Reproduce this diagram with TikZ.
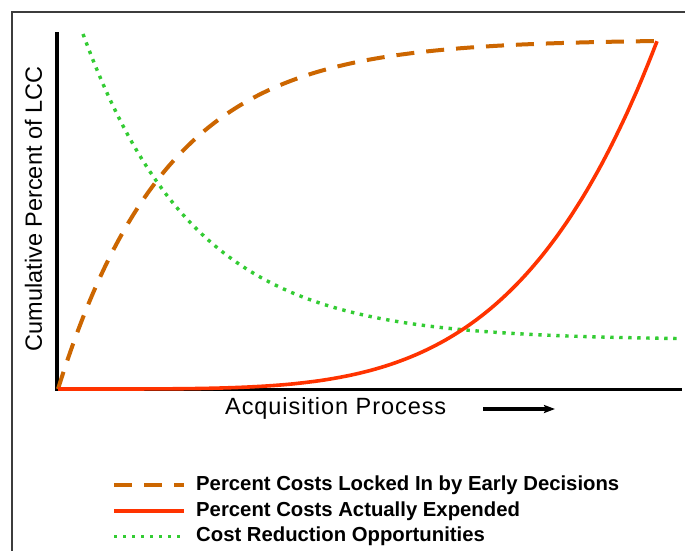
\documentclass[tikz,border=0pt]{standalone}
\usepackage{fontspec}
\setmainfont{Liberation Sans}
\usetikzlibrary{arrows.meta}
\definecolor{lockorange}{RGB}{204,102,0}
\definecolor{spentred}{RGB}{255,51,0}
\definecolor{oppgreen}{RGB}{51,204,51}
\definecolor{framegray}{RGB}{60,60,60}
\tikzset{
  lockcurve/.style={draw=lockorange, line width=4pt, dash pattern=on 18pt off 12pt},
  spentcurve/.style={draw=spentred, line width=3.6pt},
  oppcurve/.style={draw=oppgreen, line width=3.4pt, dash pattern=on 3.4pt off 5.6pt},
  axisline/.style={draw=black, line width=3.6pt},
  axislabel/.style={font=\fontsize{23.5}{28}\selectfont, inner sep=0pt},
  legendtext/.style={font=\fontsize{20.3}{24}\selectfont\bfseries, anchor=west, inner sep=0pt},
}
\begin{document}
\begin{tikzpicture}[x=1pt, y=-1pt]
\useasboundingbox (0,0) rectangle (685,551);
\fill[white] (0,0) rectangle (685,551);
% frame
\draw[framegray, line width=1.3pt] (12,551) -- (12,12) -- (685,12);
% axes
\coordinate (ytop) at (57,32.5);
\coordinate (origin) at (57,389.5);
\coordinate (xend) at (682,389.5);
\draw[axisline] (ytop) -- (57,391.3);
\draw[axisline] (55.2,389.5) -- (xend);
% curves
\draw[oppcurve] plot[domain=83:680, samples=120] (\x, {340-306*exp(-(\x-83)/112)});
\draw[lockcurve] plot[domain=58:657, samples=120] (\x, {389-348*(1-exp(-(\x-58)/109))/(1-exp(-599/109))});
\draw[spentcurve] plot[domain=58:657, samples=120] (\x, {389-348*exp(4.5*ln(max((\x-58)/599,0.00001)))});
% labels
\node[axislabel, rotate=90] (ylab) at (33.5,209) {Cumulative Percent of LCC};
\node[axislabel, anchor=west] (xlab) at (225,408) {\addfontfeature{LetterSpace=4}Acquisition Process};
\coordinate (arrS) at (483,409);
\coordinate (arrE) at (555,409);
\draw[line width=3.2pt, -{Stealth[length=11pt,width=8pt,inset=2pt]}] (arrS) -- (arrE);
% legend
\coordinate (l1a) at (114,485);
\coordinate (l1b) at (184,485);
\coordinate (l2a) at (114,511);
\coordinate (l2b) at (184,511);
\coordinate (l3a) at (114,536.5);
\coordinate (l3b) at (184,536.5);
\draw[lockcurve] (l1a) -- (l1b);
\draw[spentcurve] (l2a) -- (l2b);
\draw[oppcurve] (l3a) -- (l3b);
\node[legendtext] (t1) at (196,485) {Percent Costs Locked In by Early Decisions};
\node[legendtext] (t2) at (196,511) {Percent Costs Actually Expended};
\node[legendtext] (t3) at (196,536.5) {Cost Reduction Opportunities};
\end{tikzpicture}
\end{document}
